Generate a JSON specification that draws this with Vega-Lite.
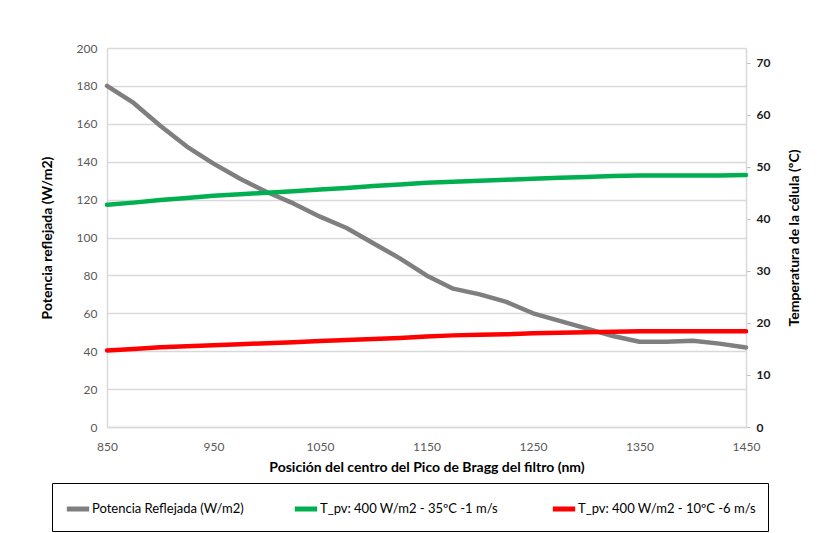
{
  "$schema": "https://vega.github.io/schema/vega-lite/v6.json",
  "autosize": {"type": "none"},
  "width": 639,
  "height": 379,
  "padding": {"left": 107, "top": 48, "right": 83, "bottom": 106},
  "background": "white",
  "config": {
    "view": {"stroke": null},
    "font": "Lato",
    "axis": {"labelFont": "Lato", "titleFont": "Lato"},
    "legend": {"labelFont": "Lato"}
  },
  "data": {
    "values": [
      {"nm": 850, "serie": "Potencia Reflejada (W/m2)", "valor": 180},
      {"nm": 875, "serie": "Potencia Reflejada (W/m2)", "valor": 171},
      {"nm": 900, "serie": "Potencia Reflejada (W/m2)", "valor": 159},
      {"nm": 925, "serie": "Potencia Reflejada (W/m2)", "valor": 148},
      {"nm": 950, "serie": "Potencia Reflejada (W/m2)", "valor": 139},
      {"nm": 975, "serie": "Potencia Reflejada (W/m2)", "valor": 131},
      {"nm": 1000, "serie": "Potencia Reflejada (W/m2)", "valor": 124},
      {"nm": 1025, "serie": "Potencia Reflejada (W/m2)", "valor": 118},
      {"nm": 1050, "serie": "Potencia Reflejada (W/m2)", "valor": 111},
      {"nm": 1075, "serie": "Potencia Reflejada (W/m2)", "valor": 105},
      {"nm": 1100, "serie": "Potencia Reflejada (W/m2)", "valor": 97},
      {"nm": 1125, "serie": "Potencia Reflejada (W/m2)", "valor": 89},
      {"nm": 1150, "serie": "Potencia Reflejada (W/m2)", "valor": 80},
      {"nm": 1175, "serie": "Potencia Reflejada (W/m2)", "valor": 73},
      {"nm": 1200, "serie": "Potencia Reflejada (W/m2)", "valor": 70},
      {"nm": 1225, "serie": "Potencia Reflejada (W/m2)", "valor": 66},
      {"nm": 1250, "serie": "Potencia Reflejada (W/m2)", "valor": 60},
      {"nm": 1275, "serie": "Potencia Reflejada (W/m2)", "valor": 56},
      {"nm": 1300, "serie": "Potencia Reflejada (W/m2)", "valor": 52},
      {"nm": 1325, "serie": "Potencia Reflejada (W/m2)", "valor": 48},
      {"nm": 1350, "serie": "Potencia Reflejada (W/m2)", "valor": 45},
      {"nm": 1375, "serie": "Potencia Reflejada (W/m2)", "valor": 45},
      {"nm": 1400, "serie": "Potencia Reflejada (W/m2)", "valor": 45.5},
      {"nm": 1425, "serie": "Potencia Reflejada (W/m2)", "valor": 44},
      {"nm": 1450, "serie": "Potencia Reflejada (W/m2)", "valor": 42},
      {"nm": 850, "serie": "T_pv:  400 W/m2 - 35ºC -1 m/s", "valor": 42.7},
      {"nm": 875, "serie": "T_pv:  400 W/m2 - 35ºC -1 m/s", "valor": 43.1},
      {"nm": 900, "serie": "T_pv:  400 W/m2 - 35ºC -1 m/s", "valor": 43.6},
      {"nm": 925, "serie": "T_pv:  400 W/m2 - 35ºC -1 m/s", "valor": 44.0},
      {"nm": 950, "serie": "T_pv:  400 W/m2 - 35ºC -1 m/s", "valor": 44.4},
      {"nm": 975, "serie": "T_pv:  400 W/m2 - 35ºC -1 m/s", "valor": 44.7},
      {"nm": 1000, "serie": "T_pv:  400 W/m2 - 35ºC -1 m/s", "valor": 45.0},
      {"nm": 1025, "serie": "T_pv:  400 W/m2 - 35ºC -1 m/s", "valor": 45.3},
      {"nm": 1050, "serie": "T_pv:  400 W/m2 - 35ºC -1 m/s", "valor": 45.6},
      {"nm": 1075, "serie": "T_pv:  400 W/m2 - 35ºC -1 m/s", "valor": 45.9},
      {"nm": 1100, "serie": "T_pv:  400 W/m2 - 35ºC -1 m/s", "valor": 46.3},
      {"nm": 1125, "serie": "T_pv:  400 W/m2 - 35ºC -1 m/s", "valor": 46.6},
      {"nm": 1150, "serie": "T_pv:  400 W/m2 - 35ºC -1 m/s", "valor": 46.9},
      {"nm": 1175, "serie": "T_pv:  400 W/m2 - 35ºC -1 m/s", "valor": 47.1},
      {"nm": 1200, "serie": "T_pv:  400 W/m2 - 35ºC -1 m/s", "valor": 47.3},
      {"nm": 1225, "serie": "T_pv:  400 W/m2 - 35ºC -1 m/s", "valor": 47.5},
      {"nm": 1250, "serie": "T_pv:  400 W/m2 - 35ºC -1 m/s", "valor": 47.7},
      {"nm": 1275, "serie": "T_pv:  400 W/m2 - 35ºC -1 m/s", "valor": 47.9},
      {"nm": 1300, "serie": "T_pv:  400 W/m2 - 35ºC -1 m/s", "valor": 48.0},
      {"nm": 1325, "serie": "T_pv:  400 W/m2 - 35ºC -1 m/s", "valor": 48.2},
      {"nm": 1350, "serie": "T_pv:  400 W/m2 - 35ºC -1 m/s", "valor": 48.3},
      {"nm": 1375, "serie": "T_pv:  400 W/m2 - 35ºC -1 m/s", "valor": 48.3},
      {"nm": 1400, "serie": "T_pv:  400 W/m2 - 35ºC -1 m/s", "valor": 48.3},
      {"nm": 1425, "serie": "T_pv:  400 W/m2 - 35ºC -1 m/s", "valor": 48.3},
      {"nm": 1450, "serie": "T_pv:  400 W/m2 - 35ºC -1 m/s", "valor": 48.4},
      {"nm": 850, "serie": "T_pv: 400 W/m2 - 10ºC -6 m/s", "valor": 14.7},
      {"nm": 875, "serie": "T_pv: 400 W/m2 - 10ºC -6 m/s", "valor": 15.0},
      {"nm": 900, "serie": "T_pv: 400 W/m2 - 10ºC -6 m/s", "valor": 15.3},
      {"nm": 925, "serie": "T_pv: 400 W/m2 - 10ºC -6 m/s", "valor": 15.5},
      {"nm": 950, "serie": "T_pv: 400 W/m2 - 10ºC -6 m/s", "valor": 15.7},
      {"nm": 975, "serie": "T_pv: 400 W/m2 - 10ºC -6 m/s", "valor": 15.9},
      {"nm": 1000, "serie": "T_pv: 400 W/m2 - 10ºC -6 m/s", "valor": 16.1},
      {"nm": 1025, "serie": "T_pv: 400 W/m2 - 10ºC -6 m/s", "valor": 16.3},
      {"nm": 1050, "serie": "T_pv: 400 W/m2 - 10ºC -6 m/s", "valor": 16.5},
      {"nm": 1075, "serie": "T_pv: 400 W/m2 - 10ºC -6 m/s", "valor": 16.7},
      {"nm": 1100, "serie": "T_pv: 400 W/m2 - 10ºC -6 m/s", "valor": 16.9},
      {"nm": 1125, "serie": "T_pv: 400 W/m2 - 10ºC -6 m/s", "valor": 17.1},
      {"nm": 1150, "serie": "T_pv: 400 W/m2 - 10ºC -6 m/s", "valor": 17.4},
      {"nm": 1175, "serie": "T_pv: 400 W/m2 - 10ºC -6 m/s", "valor": 17.6},
      {"nm": 1200, "serie": "T_pv: 400 W/m2 - 10ºC -6 m/s", "valor": 17.7},
      {"nm": 1225, "serie": "T_pv: 400 W/m2 - 10ºC -6 m/s", "valor": 17.8},
      {"nm": 1250, "serie": "T_pv: 400 W/m2 - 10ºC -6 m/s", "valor": 18.0},
      {"nm": 1275, "serie": "T_pv: 400 W/m2 - 10ºC -6 m/s", "valor": 18.1},
      {"nm": 1300, "serie": "T_pv: 400 W/m2 - 10ºC -6 m/s", "valor": 18.2},
      {"nm": 1325, "serie": "T_pv: 400 W/m2 - 10ºC -6 m/s", "valor": 18.3},
      {"nm": 1350, "serie": "T_pv: 400 W/m2 - 10ºC -6 m/s", "valor": 18.4},
      {"nm": 1375, "serie": "T_pv: 400 W/m2 - 10ºC -6 m/s", "valor": 18.4},
      {"nm": 1400, "serie": "T_pv: 400 W/m2 - 10ºC -6 m/s", "valor": 18.4},
      {"nm": 1425, "serie": "T_pv: 400 W/m2 - 10ºC -6 m/s", "valor": 18.4},
      {"nm": 1450, "serie": "T_pv: 400 W/m2 - 10ºC -6 m/s", "valor": 18.4}
    ]
  },
  "encoding": {
    "x": {
      "field": "nm",
      "type": "quantitative",
      "scale": {"domain": [850, 1450], "nice": false, "zero": false},
      "axis": {
        "title": "Posición del centro del Pico de Bragg del filtro (nm)",
        "titleFontSize": 14,
        "titleFontWeight": "bold",
        "titleColor": "#000000",
        "titlePadding": 8,
        "values": [850, 950, 1050, 1150, 1250, 1350, 1450],
        "format": "d",
        "labelFlush": false,
        "labelColor": "#595959",
        "labelFontSize": 12,
        "labelPadding": 14,
        "ticks": false,
        "grid": false,
        "domainColor": "#d9d9d9",
        "domainWidth": 1.5
      }
    },
    "color": {
      "field": "serie",
      "type": "nominal",
      "scale": {
        "domain": ["Potencia Reflejada (W/m2)", "T_pv:  400 W/m2 - 35ºC -1 m/s", "T_pv: 400 W/m2 - 10ºC -6 m/s"],
        "range": ["#7f7f7f", "#00b050", "#ff0000"]
      },
      "legend": {
        "title": null,
        "orient": "none",
        "legendX": -55,
        "legendY": 435,
        "direction": "horizontal",
        "columns": 3,
        "columnPadding": 40,
        "padding": 12,
        "strokeColor": "#000000",
        "symbolType": "stroke",
        "symbolStrokeWidth": 5,
        "symbolSize": 500,
        "labelFontSize": 13,
        "labelColor": "#000000",
        "labelOffset": 0,
        "labelLimit": 300
      }
    }
  },
  "layer": [
    {
      "transform": [{"filter": "datum.serie === 'Potencia Reflejada (W/m2)'"}],
      "mark": {"type": "line", "strokeWidth": 4.5, "strokeJoin": "round", "strokeCap": "round"},
      "encoding": {
        "y": {
          "field": "valor",
          "type": "quantitative",
          "scale": {"domain": [0, 200], "nice": false},
          "axis": {
            "title": "Potencia reflejada (W/m2)",
            "titleFontSize": 14,
            "titleFontWeight": "bold",
            "titleColor": "#000000",
            "titlePadding": 22,
            "values": [0, 20, 40, 60, 80, 100, 120, 140, 160, 180, 200],
            "labelColor": "#595959",
            "labelFontSize": 12,
            "labelPadding": 10,
            "ticks": false,
            "grid": true,
            "gridColor": "#d9d9d9",
            "gridWidth": 1.5,
            "domainColor": "#d9d9d9",
            "domainWidth": 1.5
          }
        }
      }
    },
    {
      "transform": [{"filter": "datum.serie !== 'Potencia Reflejada (W/m2)'"}],
      "mark": {"type": "line", "strokeWidth": 4.5, "strokeJoin": "round", "strokeCap": "round"},
      "encoding": {
        "y": {
          "field": "valor",
          "type": "quantitative",
          "scale": {"domain": [0, 72.8], "nice": false},
          "axis": {
            "orient": "right",
            "title": "Temperatura de la célula (ºC)",
            "titleAngle": 270,
            "titleBaseline": "bottom",
            "titleFontSize": 14,
            "titleFontWeight": "bold",
            "titleColor": "#000000",
            "titlePadding": 32,
            "values": [0, 10, 20, 30, 40, 50, 60, 70],
            "labelColor": "#1a1a1a",
            "labelFontWeight": "bold",
            "labelFontSize": 12,
            "labelPadding": 6,
            "ticks": true,
            "tickSize": 4,
            "tickColor": "#bfbfbf",
            "grid": false,
            "domainColor": "#d9d9d9",
            "domainWidth": 1.5
          }
        }
      }
    }
  ],
  "resolve": {"scale": {"y": "independent"}}
}
